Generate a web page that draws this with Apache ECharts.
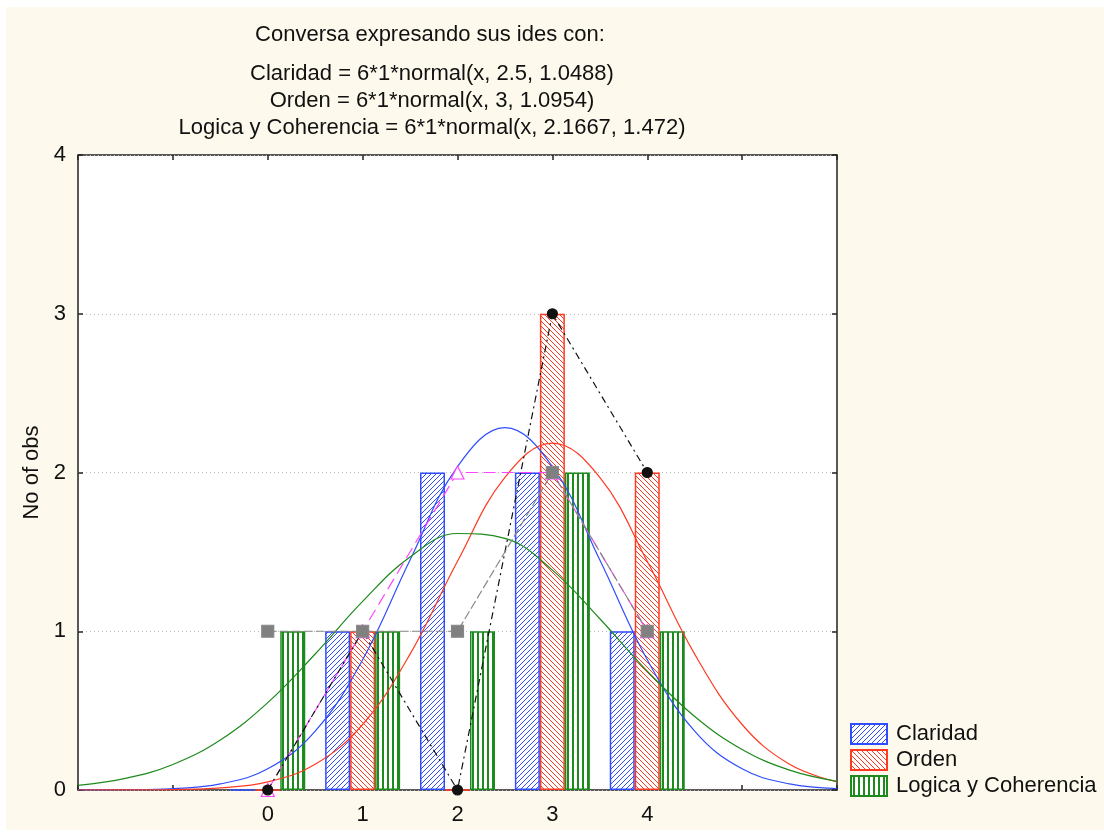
<!DOCTYPE html>
<html>
<head>
<meta charset="utf-8">
<script src="https://cdn.jsdelivr.net/npm/echarts@6/dist/echarts.min.js"></script>
<style>
  html, body { margin: 0; padding: 0; background: #fff; }
  #main { width: 1104px; height: 834px; }
</style>
</head>
<body>
<div id="main"></div>
<script>
// histogram counts per bin
var bins = [0, 1, 2, 3, 4];
var claridad = [0, 1, 2, 2, 1];
var orden = [0, 1, 0, 3, 2];
var logica = [1, 1, 1, 2, 1];

// fitted normal curves, every half unit
var curveX = [-2, -1.5, -1, -0.5, 0, 0.5, 1, 1.5, 2, 2.5, 3, 3.5, 4, 4.5, 5, 5.5, 6];
var claridadFit = [0.0002, 0.0016, 0.0087, 0.0382, 0.1333, 0.3704, 0.8209, 1.4486, 2.0372, 2.2823, 2.0372, 1.4486, 0.8209, 0.3704, 0.1333, 0.0382, 0.0087];
var ordenFit = [0.0001, 0.0005, 0.0028, 0.0133, 0.0514, 0.1617, 0.4127, 0.8557, 1.4404, 1.9689, 2.1851, 1.9689, 1.4404, 0.8557, 0.4127, 0.1617, 0.0514];
var logicaFit = [0.0296, 0.0731, 0.1608, 0.3151, 0.5503, 0.8565, 1.1877, 1.4676, 1.6157, 1.5850, 1.3853, 1.0789, 0.7488, 0.4630, 0.2551, 0.1252, 0.0548];

var xTickLabels = ['0', '1', '2', '3', '4'];
var yTickLabels = ['0', '1', '2', '3', '4'];

function pairs(xs, ys) {
  return xs.map(function (x, i) { return [x, ys[i]]; });
}

// hatch fills like the original
function hatch(color, kind) {
  var s = 5;
  var c = document.createElement('canvas');
  c.width = s; c.height = s;
  var g = c.getContext('2d');
  g.fillStyle = '#fff';
  g.fillRect(0, 0, s, s);
  g.strokeStyle = color;
  g.fillStyle = color;
  g.lineWidth = 1;
  if (kind === '|') {
    g.fillRect(2, 0, 2, s);
  } else {
    g.beginPath();
    for (var k = -s; k <= s; k += s) {
      if (kind === '/') { g.moveTo(k, s); g.lineTo(k + s, 0); }
      else { g.moveTo(k, 0); g.lineTo(k + s, s); }
    }
    g.stroke();
  }
  return { image: c, repeat: 'repeat' };
}

var BLUE = '#2f4dff', RED = '#ff3a22', GREEN = '#1d8a1d';
var FONT = 'Liberation Sans, Arial, sans-serif';

var myChart = echarts.init(document.getElementById('main'));

function barSeries(name, data, color, kind) {
  return {
    name: name,
    type: 'bar',
    data: pairs(bins, data),
    barWidth: 25,
    barGap: '0%',
    itemStyle: { color: hatch(color, kind), borderColor: color, borderWidth: 1.5 },
    emphasis: { disabled: true },
    z: 2
  };
}

function fitSeries(name, data, color) {
  return {
    name: name,
    type: 'line',
    data: pairs(curveX, data),
    smooth: 0.4,
    showSymbol: false,
    lineStyle: { color: color, width: 1.2 },
    emphasis: { disabled: true },
    z: 3
  };
}

function polySeries(name, data, color, dash, symbol, size, fill) {
  return {
    name: name,
    type: 'line',
    data: pairs(bins, data),
    symbol: symbol,
    symbolSize: size,
    itemStyle: { color: fill, borderColor: color, borderWidth: 1.2 },
    lineStyle: { color: color, width: 1.2, type: dash },
    emphasis: { disabled: true },
    z: 4
  };
}

var tick = { inside: true, length: 5, lineStyle: { color: '#222', width: 1.5 } };

myChart.setOption({
  backgroundColor: '#fff',
  animation: false,
  graphic: [{
    type: 'rect', z: -10, silent: true,
    shape: { x: 6, y: 7, width: 1098, height: 823 },
    style: { fill: '#fdf9ec' }
  }],
  title: [{
    text: 'Conversa expresando sus ides con:',
    left: 425, top: 19, textAlign: 'center',
    textStyle: { fontFamily: FONT, fontSize: 22, fontWeight: 'normal', color: '#111' }
  }, {
    text: 'Claridad = 6*1*normal(x, 2.5, 1.0488)\nOrden = 6*1*normal(x, 3, 1.0954)\nLogica y Coherencia = 6*1*normal(x, 2.1667, 1.472)',
    left: 427, top: 55, textAlign: 'center',
    textStyle: { fontFamily: FONT, fontSize: 22, fontWeight: 'normal', color: '#111', lineHeight: 27, align: 'center' }
  }],
  legend: {
    data: ['Claridad', 'Orden', 'Logica y Coherencia'],
    orient: 'vertical',
    left: 850, top: 723, padding: 0,
    icon: 'rect',
    itemWidth: 36, itemHeight: 20, itemGap: 4,
    selectedMode: false,
    textStyle: { fontFamily: FONT, fontSize: 22, color: '#111', padding: [0, 0, 0, 4] }
  },
  grid: {
    left: 78, top: 155, right: 267, bottom: 44,
    show: true, backgroundColor: '#fff', borderColor: '#222', borderWidth: 1.5
  },
  xAxis: [{
    type: 'value', min: -2, max: 6, interval: 1,
    axisLine: { show: false, onZero: false },
    axisTick: tick,
    axisLabel: {
      margin: 14, fontFamily: FONT, fontSize: 22, color: '#111',
      formatter: function (v) { return v >= 0 && v <= 4 ? xTickLabels[v] : ''; }
    },
    splitLine: { show: false }
  }, {
    type: 'value', position: 'top', min: -2, max: 6, interval: 1,
    axisLine: { show: false, onZero: false },
    axisTick: tick,
    axisLabel: { show: false },
    splitLine: { show: false }
  }],
  yAxis: [{
    type: 'value', min: 0, max: 4, interval: 1,
    name: 'No of obs', nameLocation: 'middle', nameGap: 34,
    nameTextStyle: { fontFamily: FONT, fontSize: 22, color: '#111' },
    axisLine: { show: false, onZero: false },
    axisTick: tick,
    axisLabel: {
      margin: 12, fontFamily: FONT, fontSize: 22, color: '#111',
      formatter: function (v) { return yTickLabels[v]; }
    },
    splitLine: { lineStyle: { color: '#b8b8b8', type: [1, 3], width: 1 } }
  }, {
    type: 'value', position: 'right', min: 0, max: 4, interval: 1,
    axisLine: { show: false, onZero: false },
    axisTick: tick,
    axisLabel: { show: false },
    splitLine: { show: false }
  }],
  series: [
    barSeries('Claridad', claridad, BLUE, '/'),
    barSeries('Orden', orden, RED, '\\'),
    barSeries('Logica y Coherencia', logica, GREEN, '|'),
    fitSeries('Claridad fit', claridadFit, BLUE),
    fitSeries('Orden fit', ordenFit, RED),
    fitSeries('Logica fit', logicaFit, GREEN),
    polySeries('Claridad pol', claridad, '#ff44ff', [12, 6], 'triangle', 13, '#fff'),
    polySeries('Orden pol', orden, '#111', [7, 4, 2, 4], 'circle', 10, '#111'),
    polySeries('Logica pol', logica, '#888', [9, 3], 'rect', 12, '#808080')
  ]
});
</script>
</body>
</html>
